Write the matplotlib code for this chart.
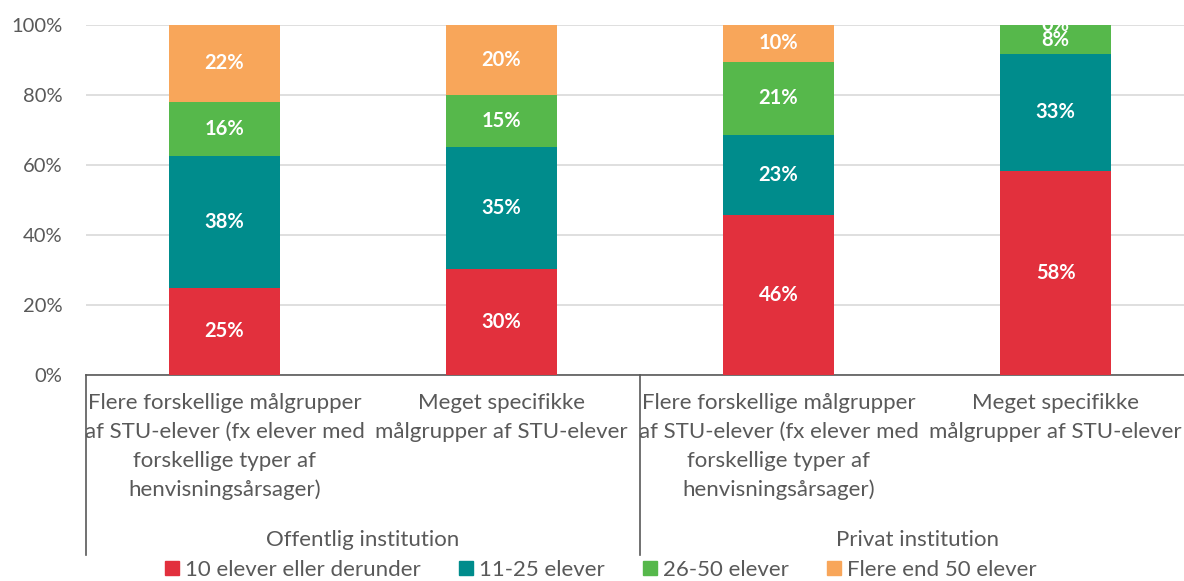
import matplotlib
matplotlib.use("Agg")
import matplotlib.pyplot as plt
import matplotlib.patches as mpatches
import numpy as np

plt.rcParams['font.family'] = ['Lato', 'DejaVu Sans']

categories = [
    "Flere forskellige målgrupper\naf STU-elever (fx elever med\nforskellige typer af\nhenvisningsårsager)",
    "Meget specifikke\nmålgrupper af STU-elever",
    "Flere forskellige målgrupper\naf STU-elever (fx elever med\nforskellige typer af\nhenvisningsårsager)",
    "Meget specifikke\nmålgrupper af STU-elever",
]
groups = ["Offentlig institution", "Privat institution"]
series_names = ["10 elever eller derunder", "11-25 elever", "26-50 elever", "Flere end 50 elever"]
values = {
    "10 elever eller derunder": [25.0, 30.2, 45.8, 58.3],
    "11-25 elever": [37.5, 34.8, 22.9, 33.4],
    "26-50 elever": [15.6, 15.0, 20.8, 8.3],
    "Flere end 50 elever": [21.9, 20.0, 10.5, 0.0],
}
labels = {
    "10 elever eller derunder": ["25%", "30%", "46%", "58%"],
    "11-25 elever": ["38%", "35%", "23%", "33%"],
    "26-50 elever": ["16%", "15%", "21%", "8%"],
    "Flere end 50 elever": ["22%", "20%", "10%", "0%"],
}
colors = ["#E2303D", "#008C8C", "#56B84B", "#F8A65A"]
yticks = [0, 20, 40, 60, 80, 100]

W, H = 1184, 581
fig = plt.figure(figsize=(W / 100, H / 100), dpi=100)
ax_l, ax_r, ax_b, ax_t = 86, 1194, 375, 25
ax = fig.add_axes([ax_l / W, (H - ax_b) / H, (ax_r - ax_l) / W, (ax_b - ax_t) / H])

x = np.arange(len(categories))
bottom = np.zeros(len(categories))
for name, col in zip(series_names, colors):
    v = np.array(values[name])
    ax.bar(x, v, bottom=bottom, width=0.40, color=col, zorder=3)
    for xi, b, vi, lab in zip(x, bottom, v, labels[name]):
        ax.text(xi, b + vi / 2, lab, ha='center', va='center', color='white',
                fontsize=14.5, fontweight='bold', zorder=4, clip_on=True)
    bottom += v

ax.set_xlim(-0.5, 3.5)
ax.set_ylim(0, 100)
ax.set_yticks(yticks)
ax.set_yticklabels([f"{t}%" for t in yticks], fontsize=14.5, color='#595959')
ax.yaxis.grid(True, color='#D9D9D9', linewidth=1.2, zorder=0)
ax.set_xticks([])
for s in ['top', 'right', 'left']:
    ax.spines[s].set_visible(False)
ax.spines['bottom'].set_color('#595959')
ax.spines['bottom'].set_linewidth(1.2)
ax.tick_params(axis='y', length=0, pad=17)

# separators below axis
sep_depth = (555 - 375) / 350.0
for xs in [-0.5, 1.5, 3.5]:
    ax.plot([xs, xs], [0, -sep_depth], transform=ax.get_xaxis_transform(),
            color='#595959', linewidth=1.2, clip_on=False)

# category labels
for xi, cat in zip(x, categories):
    ax.text(xi, -(393 - 375) / 350.0, cat, transform=ax.get_xaxis_transform(),
            ha='center', va='top', fontsize=16, color='#595959', linespacing=1.55)

# group labels
for gi, g in enumerate(groups):
    ax.text(gi * 2 + 0.5, -(540 - 375) / 350.0, g, transform=ax.get_xaxis_transform(),
            ha='center', va='center', fontsize=16, color='#595959')

# legend
handles = [mpatches.Patch(color=c, label=n) for n, c in zip(series_names, colors)]
fig.legend(handles=handles, loc='center', bbox_to_anchor=(601 / W, 1 - 570 / H),
           ncol=4, frameon=False, fontsize=16, handlelength=0.62, handleheight=0.62,
           handletextpad=0.3, columnspacing=1.7, labelcolor='#595959')

fig.savefig("out.png", dpi=100)
